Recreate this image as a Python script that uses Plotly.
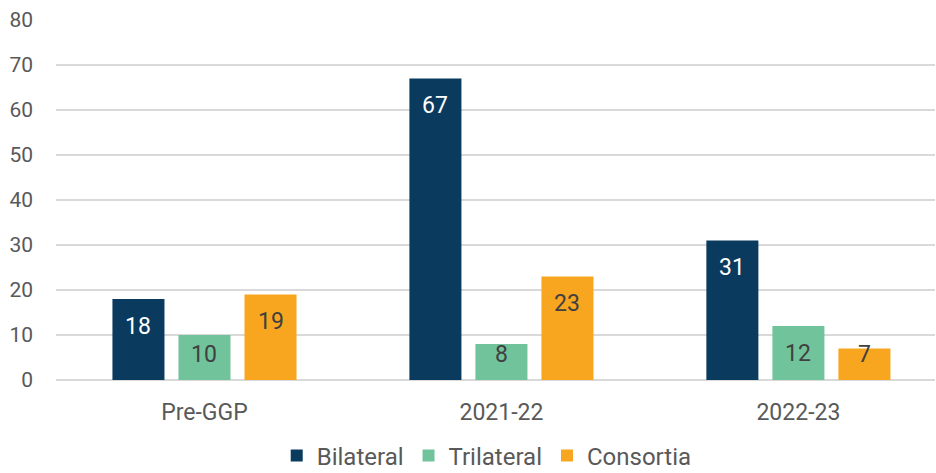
import plotly.graph_objects as go

# Partnership counts by period
periods = ["Pre-GGP", "2021-22", "2022-23"]
series_names = ["Bilateral", "Trilateral", "Consortia"]
bilateral = [18, 67, 31]
trilateral = [10, 8, 12]
consortia = [19, 23, 7]
y_ticks = [0, 10, 20, 30, 40, 50, 60, 70, 80]

values = [bilateral, trilateral, consortia]
colors = ["#0A3A5D", "#71C39C", "#F8A51F"]
label_colors = ["#FFFFFF", "#404040", "#404040"]

FONT = "Roboto, Arial, sans-serif"
GRAY = "#595959"
BARGAP = 0.333
GROUPGAP = 0.212

fig = go.Figure()
for name, vals, col in zip(series_names, values, colors):
    fig.add_trace(go.Bar(
        name=name, x=periods, y=vals,
        marker=dict(color=col, line=dict(width=0)),
        hoverinfo="x+y+name",
    ))

# Value labels sit just inside the top of each bar
slot = (1 - BARGAP) / len(series_names)
annotations = []
for j, (vals, tcol) in enumerate(zip(values, label_colors)):
    for i, v in enumerate(vals):
        annotations.append(dict(
            x=i + (j - 1) * slot, y=max(v - 6.0, 5.6),
            xref="x", yref="y", text=str(v), showarrow=False,
            font=dict(family=FONT, size=23, color=tcol),
            xanchor="center", yanchor="middle",
        ))

fig.update_layout(
    width=936, height=473,
    margin=dict(l=56, r=1, t=20, b=93),
    paper_bgcolor="white", plot_bgcolor="white",
    barmode="group", bargap=BARGAP, bargroupgap=GROUPGAP,
    font=dict(family=FONT, color=GRAY),
    showlegend=True,
    legend=dict(
        orientation="h", xref="container", yref="container",
        x=0.52, xanchor="center", y=0.036, yanchor="middle",
        font=dict(family=FONT, size=24, color=GRAY),
        itemwidth=30, tracegroupgap=0,
    ),
    annotations=annotations,
)
fig.update_xaxes(
    range=[-0.5, 2.46], showgrid=False, showline=False, ticks="",
    ticklabelstandoff=16,
    tickfont=dict(family=FONT, size=23, color=GRAY),
)
fig.update_yaxes(
    range=[0, 80], tickvals=y_ticks, showgrid=True,
    gridcolor="#D9D9D9", gridwidth=1.5, zeroline=True,
    zerolinecolor="#D9D9D9", zerolinewidth=1.5, showline=False,
    ticks="", ticklabelstandoff=22,
    tickfont=dict(family=FONT, size=21, color=GRAY),
)

fig.write_html("out.html")
